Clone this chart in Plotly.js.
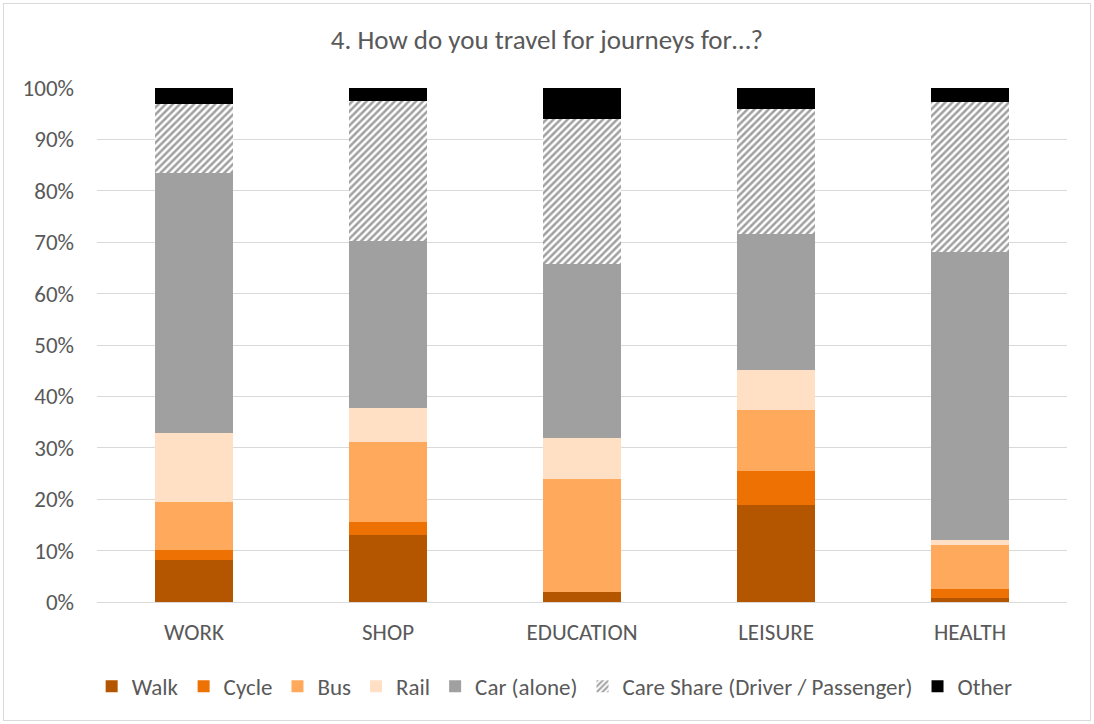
<!DOCTYPE html>
<html>
<head>
<meta charset="utf-8">
<script src="https://cdn.plot.ly/plotly-3.0.1.min.js"></script>
<style>
  html, body { margin: 0; padding: 0; background: #fff; }
  #chart { width: 1094px; height: 724px; }
  #frame { position: absolute; left: 3px; top: 3px; width: 1086px; height: 716px; border: 1px solid #d9d9d9; pointer-events: none; }
</style>
</head>
<body>
<div id="chart"></div>
<div id="frame"></div>
<script>
const categories = ["WORK", "SHOP", "EDUCATION", "LEISURE", "HEALTH"];
const walk     = [8.2, 13.1, 1.9, 18.9, 0.7];
const cycle    = [1.9, 2.4, 0.0, 6.6, 1.8];
const bus      = [9.3, 15.6, 22.0, 11.8, 8.5];
const rail     = [13.5, 6.7, 8.0, 7.9, 1.0];
const carAlone = [50.5, 32.5, 33.9, 26.3, 56.0];
const carShare = [13.5, 27.2, 28.2, 24.5, 29.3];
const other    = [3.1, 2.5, 6.0, 4.0, 2.7];
const yTicks   = [0, 10, 20, 30, 40, 50, 60, 70, 80, 90, 100];
const yTickText = yTicks.map(v => v + "%");

const series = [
  {name: "Walk", y: walk, color: "#b45500"},
  {name: "Cycle", y: cycle, color: "#ee7203"},
  {name: "Bus", y: bus, color: "#ffa95c"},
  {name: "Rail", y: rail, color: "#ffe0c5"},
  {name: "Car (alone)", y: carAlone, color: "#a0a0a0"},
  {name: "Care Share (Driver / Passenger)", y: carShare, color: "#ffffff", pattern: true},
  {name: "Other", y: other, color: "#000000"}
];

const traces = series.map(s => {
  const marker = {color: s.color, line: {width: 0}};
  if (s.pattern) {
    marker.pattern = {shape: "/", fgcolor: "#a0a0a0", bgcolor: "#ffffff", size: 5, solidity: 0.5, fillmode: "replace"};
  }
  return {type: "bar", name: s.name, x: categories, y: s.y, marker: marker, hoverinfo: "name+y"};
});

const font = "Carlito, 'Liberation Sans', 'Noto Sans', sans-serif";
const layout = {
  width: 1094, height: 724,
  barmode: "stack",
  bargap: 0.6,
  paper_bgcolor: "#ffffff",
  plot_bgcolor: "#ffffff",
  margin: {l: 97, r: 27, t: 88, b: 122, autoexpand: false},
  title: {text: "4. How do you travel for journeys for…?", x: 0.5, xanchor: "center", y: 0.945, yanchor: "middle",
          font: {family: font, size: 27, color: "#595959"}},
  font: {family: font, color: "#595959", size: 23},
  xaxis: {tickfont: {family: font, size: 23, color: "#595959"}, showline: true, linecolor: "#d9d9d9", linewidth: 1,
          ticks: "", showgrid: false, fixedrange: true, ticklabelstandoff: 9, tickangle: 0},
  yaxis: {range: [0, 100], tickvals: yTicks, ticktext: yTickText, showgrid: true, gridcolor: "#d9d9d9", gridwidth: 1,
          zeroline: false, showline: false, ticks: "", ticklen: 0, tickfont: {family: font, size: 23, color: "#595959"},
          fixedrange: true, ticklabelstandoff: 22},
  legend: {orientation: "h", xref: "container", yref: "container", x: 0.507, xanchor: "center", y: 0.052, yanchor: "middle",
           traceorder: "normal", font: {family: font, size: 23, color: "#595959"}, itemwidth: 30},
  showlegend: true
};

Plotly.newPlot("chart", traces, layout, {displayModeBar: false, staticPlot: true});
</script>
</body>
</html>
